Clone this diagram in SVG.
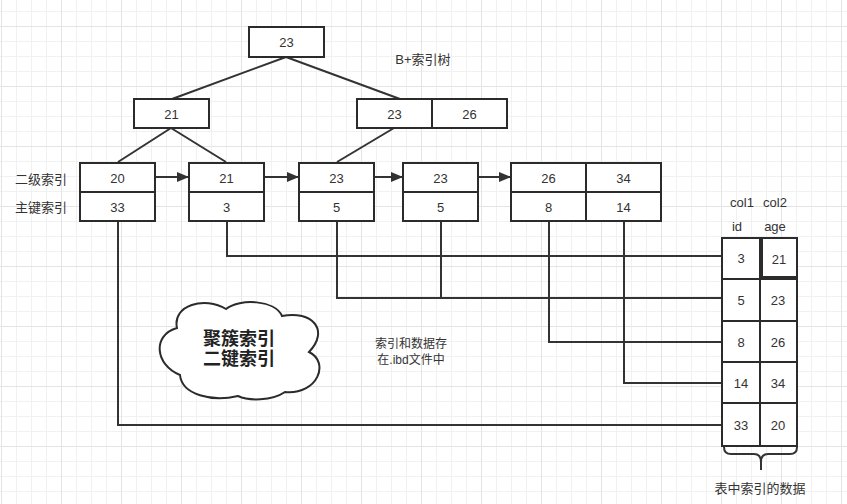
<svg xmlns="http://www.w3.org/2000/svg" width="847" height="504" viewBox="0 0 847 504">
<defs>
<pattern id="grid" x="1" y="26" width="60" height="60" patternUnits="userSpaceOnUse">
<path d="M15.5 0V60M30.5 0V60M45.5 0V60M0 15.5H60M0 30.5H60M0 45.5H60" stroke="#f1f1f1" stroke-width="1" fill="none"/>
<path d="M0.5 0V60M0 0.5H60" stroke="#e4e4e4" stroke-width="1" fill="none"/>
</pattern>
<marker id="arr" viewBox="0 0 12 10" refX="12" refY="5" markerWidth="12" markerHeight="10" markerUnits="userSpaceOnUse" orient="auto">
<path d="M0 0L12 5L0 10Z" fill="#333"/>
</marker>
</defs>
<style>
.box{fill:#fff;stroke:#2b2b2b;stroke-width:2}
.ln{fill:none;stroke:#333;stroke-width:2}
.t{font-family:"Liberation Sans","Noto Sans CJK SC",sans-serif;font-size:13px;fill:#333;text-anchor:middle;dominant-baseline:central}
.s{font-size:12px}
.b{font-size:18px;font-weight:bold;fill:#222}
</style>
<rect width="847" height="504" fill="#fff"/>
<rect width="847" height="504" fill="url(#grid)"/>

<g id="connectors">
<path class="ln" d="M286 57L172 99M286 57L400 99"/>
<path class="ln" d="M171 128L118 162M171 128L226 162"/>
<path class="ln" d="M394 128L337 162"/>
<path class="ln" d="M155 177H189" marker-end="url(#arr)"/>
<path class="ln" d="M264 177H299" marker-end="url(#arr)"/>
<path class="ln" d="M374 177H403" marker-end="url(#arr)"/>
<path class="ln" d="M478 177H511" marker-end="url(#arr)"/>
<path class="ln" d="M118 221V425H722"/>
<path class="ln" d="M227 221V256H722"/>
<path class="ln" d="M337 221V298H722M441 221V298"/>
<path class="ln" d="M549 221V342H722"/>
<path class="ln" d="M624 221V383H722"/>
</g>

<g id="root">
<rect class="box" x="249" y="27" width="75" height="30"/>
<text class="t" x="286.5" y="42">23</text>
</g>
<g id="inner-21">
<rect class="box" x="134" y="99" width="75" height="29"/>
<text class="t" x="171.5" y="114">21</text>
</g>
<g id="inner-23-26">
<rect class="box" x="357" y="99" width="75" height="29"/>
<rect class="box" x="432" y="99" width="75" height="29"/>
<text class="t" x="394.5" y="114">23</text>
<text class="t" x="469.5" y="114">26</text>
</g>

<g id="leaf-1">
<rect class="box" x="80" y="163" width="75" height="29"/>
<rect class="box" x="80" y="192" width="75" height="29"/>
<text class="t" x="117.5" y="178">20</text>
<text class="t" x="117.5" y="207">33</text>
</g>
<g id="leaf-2">
<rect class="box" x="189" y="163" width="75" height="29"/>
<rect class="box" x="189" y="192" width="75" height="29"/>
<text class="t" x="226.5" y="178">21</text>
<text class="t" x="226.5" y="207">3</text>
</g>
<g id="leaf-3">
<rect class="box" x="299" y="163" width="75" height="29"/>
<rect class="box" x="299" y="192" width="75" height="29"/>
<text class="t" x="336.5" y="178">23</text>
<text class="t" x="336.5" y="207">5</text>
</g>
<g id="leaf-4">
<rect class="box" x="403" y="163" width="75" height="29"/>
<rect class="box" x="403" y="192" width="75" height="29"/>
<text class="t" x="440.5" y="178">23</text>
<text class="t" x="440.5" y="207">5</text>
</g>
<g id="leaf-5">
<rect class="box" x="511" y="163" width="75" height="29"/>
<rect class="box" x="511" y="192" width="75" height="29"/>
<rect class="box" x="586" y="163" width="75" height="29"/>
<rect class="box" x="586" y="192" width="75" height="29"/>
<text class="t" x="548.5" y="178">26</text>
<text class="t" x="548.5" y="207">8</text>
<text class="t" x="623.5" y="178">34</text>
<text class="t" x="623.5" y="207">14</text>
</g>

<g id="labels">
<text class="t" x="423" y="59">B+索引树</text>
<text class="t" x="41" y="179">二级索引</text>
<text class="t" x="41" y="207">主键索引</text>
<text class="t s" x="411" y="344">索引和数据存</text>
<text class="t s" x="411" y="360">在.ibd文件中</text>
</g>

<g id="cloud">
<path d="M177 328C172 305 205 296 226 309C240 298 275 300 282 316C312 310 330 330 309 352C330 362 318 395 285 392C272 401 248 401 238 396C212 402 182 395 180 375C155 365 152 335 177 328Z" fill="#fff" stroke="#2b2b2b" stroke-width="2"/>
<text class="t b" x="239" y="339">聚簇索引</text>
<text class="t b" x="239" y="359">二键索引</text>
</g>

<g id="table">
<text class="t" x="742" y="202">col1</text>
<text class="t" x="775" y="202">col2</text>
<text class="t" x="737" y="226">id</text>
<text class="t" x="775" y="226">age</text>
<rect class="box" x="722" y="238" width="38" height="41"/>
<rect class="box" x="762" y="238" width="35" height="39" stroke-width="2.5"/>
<rect class="box" x="722" y="279" width="38" height="42"/>
<rect class="box" x="760" y="279" width="37" height="42"/>
<rect class="box" x="722" y="321" width="38" height="41"/>
<rect class="box" x="760" y="321" width="37" height="41"/>
<rect class="box" x="722" y="362" width="38" height="41"/>
<rect class="box" x="760" y="362" width="37" height="41"/>
<rect class="box" x="722" y="403" width="38" height="43"/>
<rect class="box" x="760" y="403" width="37" height="43"/>
<text class="t" x="741" y="258">3</text>
<text class="t" x="779" y="259">21</text>
<text class="t" x="741" y="300">5</text>
<text class="t" x="778" y="300">23</text>
<text class="t" x="741" y="342">8</text>
<text class="t" x="778" y="342">26</text>
<text class="t" x="741" y="383">14</text>
<text class="t" x="778" y="383">34</text>
<text class="t" x="741" y="425">33</text>
<text class="t" x="778" y="425">20</text>
<path class="ln" d="M724 447Q724 454 731 454H754Q761 454 761 462V470M761 462Q761 454 768 454H790Q797 454 797 447"/>
<text class="t" x="760" y="488">表中索引的数据</text>
</g>
</svg>
